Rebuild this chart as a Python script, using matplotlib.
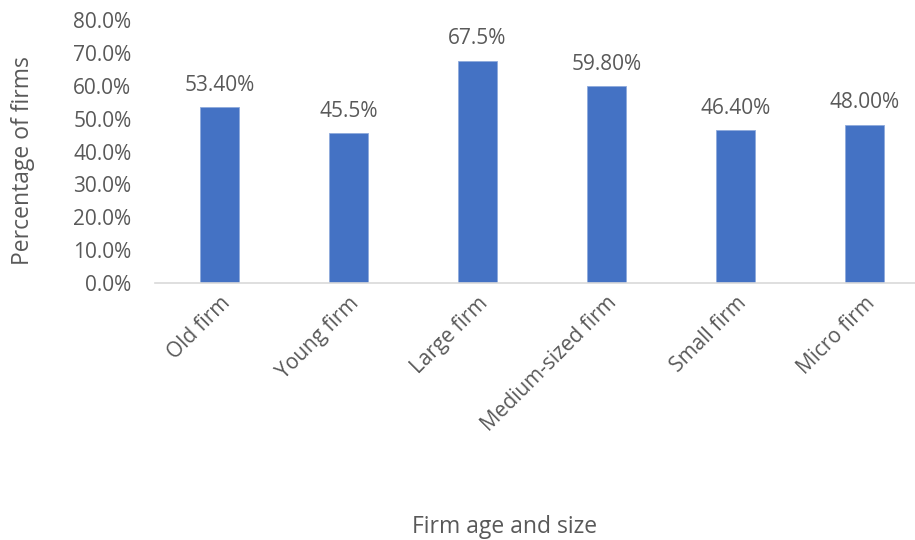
import matplotlib.pyplot as plt

categories = ['Old firm', 'Young firm', 'Large firm', 'Medium-sized firm', 'Small firm', 'Micro firm']
values = [53.40, 45.5, 67.5, 59.80, 46.40, 48.00]
value_labels = ['53.40%', '45.5%', '67.5%', '59.80%', '46.40%', '48.00%']
yticks = [0, 10, 20, 30, 40, 50, 60, 70, 80]

plt.rcParams['font.family'] = ['Open Sans', 'DejaVu Sans']
text_color = '#595959'

fig = plt.figure(figsize=(9.15, 5.4), dpi=100)
ax = fig.add_axes([155 / 915, 1 - 283 / 540, 760 / 915, 263 / 540])

x = range(len(categories))
bars = ax.bar(x, values, width=0.31, color='#4472C4', edgecolor='#8FAADC', linewidth=0.6)

# value labels above each bar
for xi, v, lab in zip(x, values, value_labels):
    ax.text(xi, v + 3.6, lab, ha='center', va='bottom', fontsize=15, color=text_color)

ax.set_xlim(-0.5, -0.5 + 760 / 129)
ax.set_ylim(0, 80)
ax.set_yticks(yticks)
ax.set_yticklabels([f'{t:.1f}%' for t in yticks], fontsize=15, color=text_color)
ax.set_xticks(list(x))
ax.set_xticklabels(categories, rotation=45, ha='right', rotation_mode='anchor',
                   fontsize=15, color=text_color)

for side in ['top', 'right', 'left']:
    ax.spines[side].set_visible(False)
ax.spines['bottom'].set_color('#D9D9D9')
ax.spines['bottom'].set_linewidth(1.2)
ax.tick_params(axis='both', length=0)
ax.tick_params(axis='y', pad=17)
ax.tick_params(axis='x', pad=7)

ax.set_ylabel('Percentage of firms', fontsize=16.5, color=text_color)
ax.yaxis.set_label_coords(-0.158, 0.465)
fig.text(505 / 915, 1 - 527 / 540, 'Firm age and size', ha='center', va='center',
         fontsize=16.5, color=text_color)

fig.savefig('out.png', dpi=100)
